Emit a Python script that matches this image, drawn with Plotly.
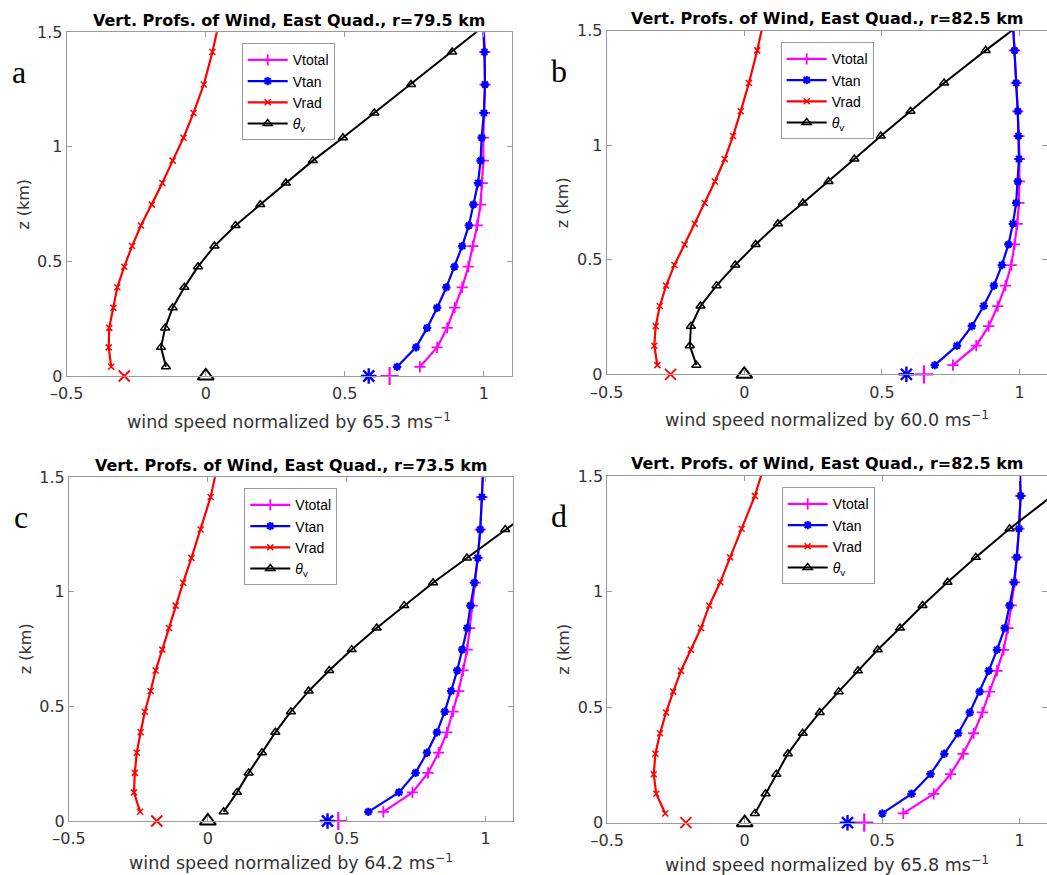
import plotly.graph_objects as go

# niveles verticales (km) comunes a los cuatro paneles
z_levels = [0.04, 0.125, 0.21, 0.298, 0.387, 0.477, 0.567, 0.657, 0.748, 0.842,
            0.94, 1.04, 1.148, 1.272, 1.414, 1.58]

# panel a, r=79.5 km
vtotal_a = [0.770, 0.832, 0.868, 0.895, 0.922, 0.944, 0.960, 0.976, 0.988, 0.994,
            0.998, 0.998, 1.002, 1.004, 1.003, 0.998]
vtan_a = [0.688, 0.756, 0.796, 0.832, 0.865, 0.894, 0.922, 0.946, 0.962, 0.979,
          0.988, 0.992, 1.000, 1.004, 1.002, 0.995]
vrad_a = [-0.340, -0.349, -0.347, -0.332, -0.318, -0.293, -0.265, -0.233, -0.194, -0.156,
          -0.119, -0.080, -0.044, -0.007, 0.024, 0.054]
thv_a = [-0.143, -0.161, -0.146, -0.119, -0.077, -0.028, 0.031, 0.107, 0.196, 0.288,
         0.385, 0.493, 0.606, 0.738, 0.886, 1.055]
sfc_a = [0.661, 0.586, -0.293, 0.0]

# panel b, r=82.5 km
vtotal_b = [0.758, 0.843, 0.888, 0.921, 0.949, 0.970, 0.982, 0.992, 0.998, 1.000,
            1.000, 0.998, 0.994, 0.988, 0.982, 0.975]
vtan_b = [0.692, 0.773, 0.827, 0.870, 0.907, 0.936, 0.960, 0.976, 0.988, 0.994,
          0.998, 0.996, 0.994, 0.988, 0.982, 0.974]
vrad_b = [-0.316, -0.327, -0.322, -0.307, -0.284, -0.254, -0.217, -0.180, -0.144, -0.107,
          -0.071, -0.041, -0.013, 0.017, 0.047, 0.077]
thv_b = [-0.174, -0.198, -0.194, -0.159, -0.101, -0.033, 0.041, 0.122, 0.213, 0.306,
         0.400, 0.496, 0.604, 0.726, 0.877, 1.060]
sfc_b = [0.653, 0.589, -0.268, 0.0]

# panel c, r=73.5 km
vtotal_c = [0.632, 0.737, 0.793, 0.831, 0.861, 0.883, 0.903, 0.919, 0.934, 0.943,
            0.952, 0.963, 0.972, 0.981, 0.987, 0.993]
vtan_c = [0.578, 0.688, 0.748, 0.789, 0.825, 0.853, 0.876, 0.898, 0.916, 0.934,
          0.946, 0.960, 0.972, 0.981, 0.987, 0.993]
vrad_c = [-0.244, -0.266, -0.263, -0.256, -0.242, -0.227, -0.206, -0.188, -0.164, -0.140,
          -0.116, -0.089, -0.059, -0.026, 0.010, 0.040]
thv_c = [0.057, 0.105, 0.147, 0.195, 0.243, 0.299, 0.363, 0.437, 0.518, 0.608,
         0.707, 0.811, 0.933, 1.071, 1.230, 1.420]
sfc_c = [0.470, 0.431, -0.184, 0.0]

# panel d, r=82.5 km
vtotal_d = [0.577, 0.688, 0.749, 0.795, 0.833, 0.865, 0.891, 0.918, 0.942, 0.958,
            0.970, 0.982, 0.990, 0.998, 1.004, 1.000]
vtan_d = [0.501, 0.607, 0.676, 0.726, 0.777, 0.819, 0.855, 0.888, 0.918, 0.946,
          0.964, 0.980, 0.990, 0.998, 1.004, 1.000]
vrad_d = [-0.289, -0.322, -0.331, -0.325, -0.308, -0.286, -0.260, -0.232, -0.196, -0.159,
          -0.129, -0.089, -0.053, -0.011, 0.037, 0.080]
thv_d = [0.037, 0.076, 0.115, 0.157, 0.211, 0.273, 0.342, 0.412, 0.484, 0.565,
         0.647, 0.738, 0.841, 0.964, 1.115, 1.300]
sfc_d = [0.435, 0.374, -0.214, 0.0]

radios = ["79.5", "82.5", "73.5", "82.5"]
norm_speed = ["65.3", "60.0", "64.2", "65.8"]
letras = ["a", "b", "c", "d"]

x_ticks = [-0.5, 0, 0.5, 1]
x_ticklabels = ["–0.5", "0", "0.5", "1"]
z_ticks = [0, 0.5, 1, 1.5]
z_ticklabels = ["0", "0.5", "1", "1.5"]

paneles = [
    (vtotal_a, vtan_a, vrad_a, thv_a, sfc_a),
    (vtotal_b, vtan_b, vrad_b, thv_b, sfc_b),
    (vtotal_c, vtan_c, vrad_c, thv_c, sfc_c),
    (vtotal_d, vtan_d, vrad_d, thv_d, sfc_d),
]

W, H = 1047, 875
# cajas de los ejes en pixeles: (izq, der, arriba, abajo)
cajas = [(66.7, 511.7, 32.3, 376.0),
         (606.7, 1047.0, 30.7, 374.3),
         (69.0, 513.3, 477.3, 821.0),
         (607.3, 1047.0, 476.0, 822.7)]
# esquina superior izquierda de cada leyenda (pixeles)
pos_leyenda = [(241.7, 43.3), (780.7, 42.3), (244.3, 488.3), (781.7, 487.3)]

FONT = "DejaVu Sans, Verdana, sans-serif"
FONT_LEG = "Liberation Sans, Arial, sans-serif"
GRIS = "#9a9a9a"
TXT = "#333333"

fig = go.Figure()
layout = dict(width=W, height=H, margin=dict(l=0, r=0, t=0, b=0, autoexpand=False),
              paper_bgcolor="white", plot_bgcolor="white",
              font=dict(family=FONT, size=15, color=TXT))
anotaciones = []

for i, (vtot, vtan, vrad, thv, sfc) in enumerate(paneles):
    n = "" if i == 0 else str(i + 1)
    xa, ya = "x" + n, "y" + n
    leg = "legend" + n
    l, r, t, b = cajas[i]

    estilo = [
        ("Vtotal", vtot, "#ff00ff", "cross-thin-open", 8, 2.2, 1.8),
        ("Vtan", vtan, "#0000ff", "asterisk-open", 7, 2.2, 2.2),
        ("Vrad", vrad, "#ff0000", "x-thin-open", 6, 2.2, 1.5),
        ("<i>θ</i><sub>v</sub>", thv, "black", "triangle-up-open", 8, 2, 1.5),
    ]
    for nombre, valores, color, simbolo, tam, ancho, borde in estilo:
        fig.add_trace(go.Scatter(
            x=valores, y=z_levels, mode="lines+markers", name=nombre,
            xaxis=xa, yaxis=ya, legend=leg,
            line=dict(color=color, width=ancho),
            marker=dict(symbol=simbolo, size=tam, color=color,
                        line=dict(color=color, width=borde))))

    # valores en superficie (z=0), marcadores grandes
    sup = [("#ff00ff", "cross-thin-open", 13, 2.2),
           ("#0000ff", "asterisk-open", 13, 2.4),
           ("#ff0000", "x-thin-open", 11, 1.8),
           ("black", "triangle-up-open", 14, 2.0)]
    for k, (color, simbolo, tam, ancho) in enumerate(sup):
        fig.add_trace(go.Scatter(
            x=[sfc[k]], y=[0], mode="markers", showlegend=False,
            xaxis=xa, yaxis=ya, cliponaxis=False,
            marker=dict(symbol=simbolo, size=tam, color=color,
                        line=dict(color=color, width=ancho))))

    eje = dict(showline=True, linecolor=GRIS, linewidth=1, mirror="ticks",
               ticks="inside", ticklen=5, tickcolor=GRIS, showgrid=False,
               zeroline=False, tickfont=dict(family=FONT, size=16, color=TXT))
    layout["xaxis" + n] = dict(eje, domain=[l / W, min(r / W, 1.0)],
                               range=[-0.5, 1.1], tickvals=x_ticks,
                               ticktext=x_ticklabels, anchor=ya,
                               ticklabelstandoff=3)
    layout["yaxis" + n] = dict(eje, domain=[1 - b / H, 1 - t / H],
                               range=[0, 1.5], tickvals=z_ticks,
                               ticktext=z_ticklabels, anchor=xa)

    lx, ly = pos_leyenda[i]
    layout[leg] = dict(x=lx / W, y=1 - ly / H, xanchor="left", yanchor="top",
                       bgcolor="white", bordercolor=GRIS, borderwidth=1,
                       font=dict(family=FONT_LEG, size=14, color="black"),
                       itemwidth=40, tracegroupgap=0)

    cx = (l + r) / 2 if i % 2 == 0 else (l + 1047.6) / 2
    sep_xlabel = 45 if i < 2 else 41
    anotaciones.append(dict(
        text="<b>Vert. Profs. of Wind, East Quad., r=" + radios[i] + " km</b>",
        x=cx / W, y=1 - (t - 12) / H, xref="paper", yref="paper",
        xanchor="center", yanchor="middle", showarrow=False,
        font=dict(family=FONT, size=16, color="black")))
    anotaciones.append(dict(
        text="wind speed normalized by " + norm_speed[i] + " ms<sup>−1</sup>",
        x=cx / W, y=1 - (b + sep_xlabel) / H, xref="paper", yref="paper",
        xanchor="center", yanchor="middle", showarrow=False,
        font=dict(family=FONT, size=17.5, color=TXT)))
    anotaciones.append(dict(
        text="z (km)", textangle=-90, x=(l - 44) / W, y=1 - (t + b) / 2 / H,
        xref="paper", yref="paper", xanchor="center", yanchor="middle",
        showarrow=False, font=dict(family=FONT, size=16, color=TXT)))
    anotaciones.append(dict(
        text=letras[i], x=(l - 48) / W, y=1 - (t + 40) / H,
        xref="paper", yref="paper", xanchor="center", yanchor="middle",
        showarrow=False,
        font=dict(family="Liberation Serif, Times New Roman, serif",
                  size=32, color="black")))

layout["annotations"] = anotaciones
fig.update_layout(**layout)

# sin margen del body para que la figura ocupe la ventana entera
fig.write_html("out.html", config={"displayModeBar": False},
               post_script="document.body.style.margin='0px';")
